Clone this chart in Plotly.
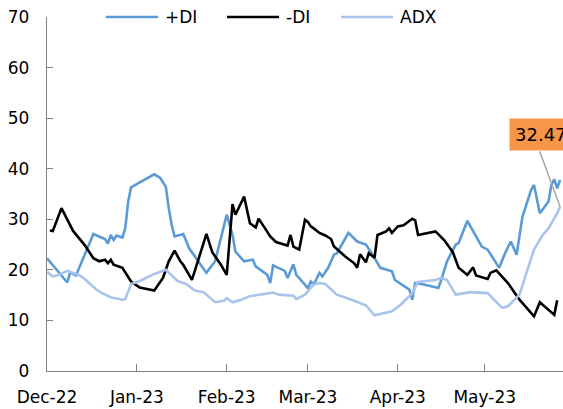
import plotly.graph_objects as go

# ---------------- data ----------------
pdi_dates = ["2022-12-01", "2022-12-08", "2022-12-09", "2022-12-11", "2022-12-17", "2022-12-21",
             "2022-12-22", "2022-12-23", "2022-12-24", "2022-12-25", "2022-12-27", "2022-12-28",
             "2022-12-29", "2022-12-30", "2023-01-02", "2023-01-07", "2023-01-09", "2023-01-11",
             "2023-01-12", "2023-01-13", "2023-01-14", "2023-01-17", "2023-01-19", "2023-01-21",
             "2023-01-25", "2023-01-28", "2023-01-31", "2023-02-01", "2023-02-03", "2023-02-04",
             "2023-02-07", "2023-02-10", "2023-02-11", "2023-02-15", "2023-02-16", "2023-02-17",
             "2023-02-21", "2023-02-22", "2023-02-24", "2023-02-25", "2023-03-01", "2023-03-02",
             "2023-03-03", "2023-03-05", "2023-03-06", "2023-03-08", "2023-03-10", "2023-03-11",
             "2023-03-15", "2023-03-18", "2023-03-21", "2023-03-22", "2023-03-23", "2023-03-26",
             "2023-03-28", "2023-03-30", "2023-03-31", "2023-04-03", "2023-04-05", "2023-04-06",
             "2023-04-07", "2023-04-10", "2023-04-15", "2023-04-16", "2023-04-18", "2023-04-21",
             "2023-04-22", "2023-04-25", "2023-04-28", "2023-04-30", "2023-05-02", "2023-05-05",
             "2023-05-06", "2023-05-08", "2023-05-10", "2023-05-12", "2023-05-14", "2023-05-17",
             "2023-05-18", "2023-05-20", "2023-05-23", "2023-05-24", "2023-05-25", "2023-05-26",
             "2023-05-27"]
pdi = [22.3, 17.5, 19.5, 18.9, 27.1, 26.1,
       25.2, 26.9, 25.9, 26.8, 26.4, 28.2,
       33.5, 36.3, 37.3, 38.9, 38.2, 36.4,
       32.2, 28.9, 26.6, 27.1, 24.3, 22.6,
       19.4, 21.7, 28.6, 30.9, 26.9, 23.6,
       21.7, 22.0, 20.7, 19.0, 17.4, 20.9,
       19.8, 18.4, 21.1, 19.0, 16.4, 17.7,
       17.1, 19.4, 18.7, 20.4, 23.0, 23.3,
       27.3, 25.6, 25.0, 24.0, 23.3, 20.4,
       20.0, 19.7, 18.0, 16.9, 16.1, 14.1,
       17.4, 17.1, 16.4, 18.0, 21.7, 25.0,
       25.3, 29.7, 26.6, 24.6, 24.0, 21.3,
       20.4, 23.3, 25.6, 23.0, 30.5, 35.8,
       36.8, 31.2, 33.5, 36.8, 37.9, 36.1,
       37.8]

mdi_dates = ["2022-12-02", "2022-12-03", "2022-12-06", "2022-12-09", "2022-12-10", "2022-12-14",
             "2022-12-17", "2022-12-19", "2022-12-21", "2022-12-22", "2022-12-23", "2022-12-24",
             "2022-12-27", "2022-12-30", "2023-01-02", "2023-01-07", "2023-01-10", "2023-01-12",
             "2023-01-14", "2023-01-16", "2023-01-17", "2023-01-19", "2023-01-20", "2023-01-25",
             "2023-01-27", "2023-01-30", "2023-02-01", "2023-02-03", "2023-02-04", "2023-02-07",
             "2023-02-09", "2023-02-11", "2023-02-12", "2023-02-14", "2023-02-16", "2023-02-18",
             "2023-02-22", "2023-02-23", "2023-02-24", "2023-02-26", "2023-02-28", "2023-03-01",
             "2023-03-02", "2023-03-03", "2023-03-05", "2023-03-07", "2023-03-09", "2023-03-10",
             "2023-03-14", "2023-03-17", "2023-03-18", "2023-03-19", "2023-03-21", "2023-03-22",
             "2023-03-24", "2023-03-25", "2023-03-28", "2023-03-29", "2023-03-30", "2023-04-01",
             "2023-04-03", "2023-04-06", "2023-04-07", "2023-04-08", "2023-04-14", "2023-04-17",
             "2023-04-20", "2023-04-22", "2023-04-25", "2023-04-27", "2023-04-28", "2023-05-02",
             "2023-05-03", "2023-05-05", "2023-05-09", "2023-05-13", "2023-05-15", "2023-05-18",
             "2023-05-20", "2023-05-25", "2023-05-26"]
mdi = [27.8, 27.7, 32.2, 28.9, 27.7, 24.9,
       22.3, 21.7, 22.0, 21.3, 22.0, 21.0,
       20.4, 17.7, 16.5, 15.9, 18.4, 21.7,
       23.8, 21.7, 21.0, 19.0, 18.0, 27.1,
       23.5, 21.0, 19.0, 33.0, 30.9, 34.5,
       29.2, 28.4, 30.1, 28.4, 26.6, 25.5,
       24.8, 26.9, 24.6, 24.0, 29.9, 29.5,
       28.6, 28.2, 27.3, 26.8, 26.1, 24.6,
       22.6, 21.3, 20.4, 23.1, 21.5, 23.3,
       22.4, 26.9, 27.6, 28.2, 27.3, 28.6,
       28.8, 30.1, 29.8, 26.9, 27.6, 25.9,
       23.5, 20.4, 19.0, 20.5, 18.9, 18.2,
       19.4, 19.9, 17.4, 14.1, 12.8, 10.8,
       13.6, 11.1, 14.0]

adx_dates = ["2022-12-01", "2022-12-03", "2022-12-05", "2022-12-08", "2022-12-12", "2022-12-14",
             "2022-12-18", "2022-12-20", "2022-12-23", "2022-12-27", "2022-12-28", "2022-12-30",
             "2023-01-02", "2023-01-07", "2023-01-11", "2023-01-15", "2023-01-18", "2023-01-21",
             "2023-01-24", "2023-01-28", "2023-01-31", "2023-02-01", "2023-02-03", "2023-02-06",
             "2023-02-09", "2023-02-13", "2023-02-17", "2023-02-19", "2023-02-24", "2023-02-25",
             "2023-02-28", "2023-03-03", "2023-03-05", "2023-03-07", "2023-03-11", "2023-03-17",
             "2023-03-21", "2023-03-24", "2023-03-30", "2023-04-02", "2023-04-04", "2023-04-06",
             "2023-04-08", "2023-04-14", "2023-04-16", "2023-04-18", "2023-04-21", "2023-04-26",
             "2023-05-02", "2023-05-07", "2023-05-09", "2023-05-13", "2023-05-15", "2023-05-18",
             "2023-05-21", "2023-05-23", "2023-05-26", "2023-05-27"]
adx = [19.6, 18.7, 19.0, 19.8, 19.0, 18.2,
       16.1, 15.4, 14.6, 14.1, 14.2, 17.2,
       17.8, 19.2, 20.0, 17.8, 17.2, 15.9,
       15.6, 13.6, 13.9, 14.4, 13.6, 14.1,
       14.8, 15.1, 15.5, 15.1, 14.9, 14.2,
       15.1, 17.1, 17.4, 17.2, 15.1, 13.9,
       13.0, 11.0, 11.8, 13.1, 14.2, 15.4,
       17.6, 18.0, 18.4, 18.0, 15.1, 15.6,
       15.4, 12.5, 12.8, 15.1, 18.7, 24.0,
       26.9, 28.2, 31.2, 32.47]

month_ticks = ["2022-12-01", "2023-01-01", "2023-02-01", "2023-03-01", "2023-04-01", "2023-05-01"]
month_labels = ["Dec-22", "Jan-23", "Feb-23", "Mar-23", "Apr-23", "May-23"]
y_ticks = [0, 10, 20, 30, 40, 50, 60, 70]

series_names = ["+DI", "-DI", "ADX"]
series_colors = ["#5B9BD5", "#000000", "#A9C4EB"]

FONT = "DejaVu Sans"
AXIS = "#808080"

fig = go.Figure()
for name, xs, ys, col in zip(series_names, [pdi_dates, mdi_dates, adx_dates], [pdi, mdi, adx], series_colors):
    fig.add_trace(go.Scatter(x=xs, y=ys, mode="lines", name=name,
                             line=dict(color=col, width=2.6), showlegend=False))

# manual legend (line sample + label)
leg_x = [(0.1143, 0.2151, 0.2248), (0.3488, 0.4496, 0.4593), (0.5698, 0.6705, 0.6802)]
for (x0, x1, xt), name, col in zip(leg_x, series_names, series_colors):
    fig.add_shape(type="line", xref="paper", yref="paper", x0=x0, x1=x1, y0=1.0, y1=1.0,
                  line=dict(color=col, width=2.6))
    fig.add_annotation(xref="paper", yref="paper", x=xt, y=1.0, text=name, showarrow=False,
                       xanchor="left", yanchor="middle", font=dict(family=FONT, size=17, color="#000"))

# data label for last ADX value
fig.add_annotation(x=adx_dates[-1], y=adx[-1], text="", showarrow=True, arrowhead=0,
                   arrowwidth=1.5, arrowcolor="#A6A6A6", ax=-21, ay=-57)
fig.add_annotation(xref="paper", yref="paper", x=0.8953, y=0.7147, xanchor="left", yanchor="top",
                   text=f"{adx[-1]:.2f}", showarrow=False, bgcolor="#F79646", borderpad=5,
                   font=dict(family=FONT, size=18, color="#000"))

fig.update_layout(
    width=563, height=409,
    margin=dict(l=47, r=0, t=17, b=38),
    plot_bgcolor="white", paper_bgcolor="white",
    font=dict(family=FONT, size=17, color="#000"),
    hovermode=False,
)
fig.update_xaxes(type="date", range=["2022-12-01", "2023-05-28"],
                 tickvals=month_ticks, ticktext=month_labels,
                 showline=True, linecolor=AXIS, linewidth=1.3,
                 ticks="inside", ticklen=7, tickcolor=AXIS, tickwidth=1.3,
                 showgrid=False, zeroline=False, ticklabelstandoff=10,
                 ticklabeloverflow="allow")
fig.update_yaxes(range=[0, 70], tickvals=y_ticks,
                 showline=True, linecolor=AXIS, linewidth=1.3,
                 ticks="inside", ticklen=6, tickcolor=AXIS, tickwidth=1.3,
                 showgrid=False, zeroline=False, ticklabelstandoff=13,
                 ticklabeloverflow="allow")

# remove the default page margin so the 563x409 figure fills the window exactly
fig.write_html("out.html", config={"displayModeBar": False},
               post_script="document.body.style.margin='0';document.documentElement.style.overflow='hidden';")
